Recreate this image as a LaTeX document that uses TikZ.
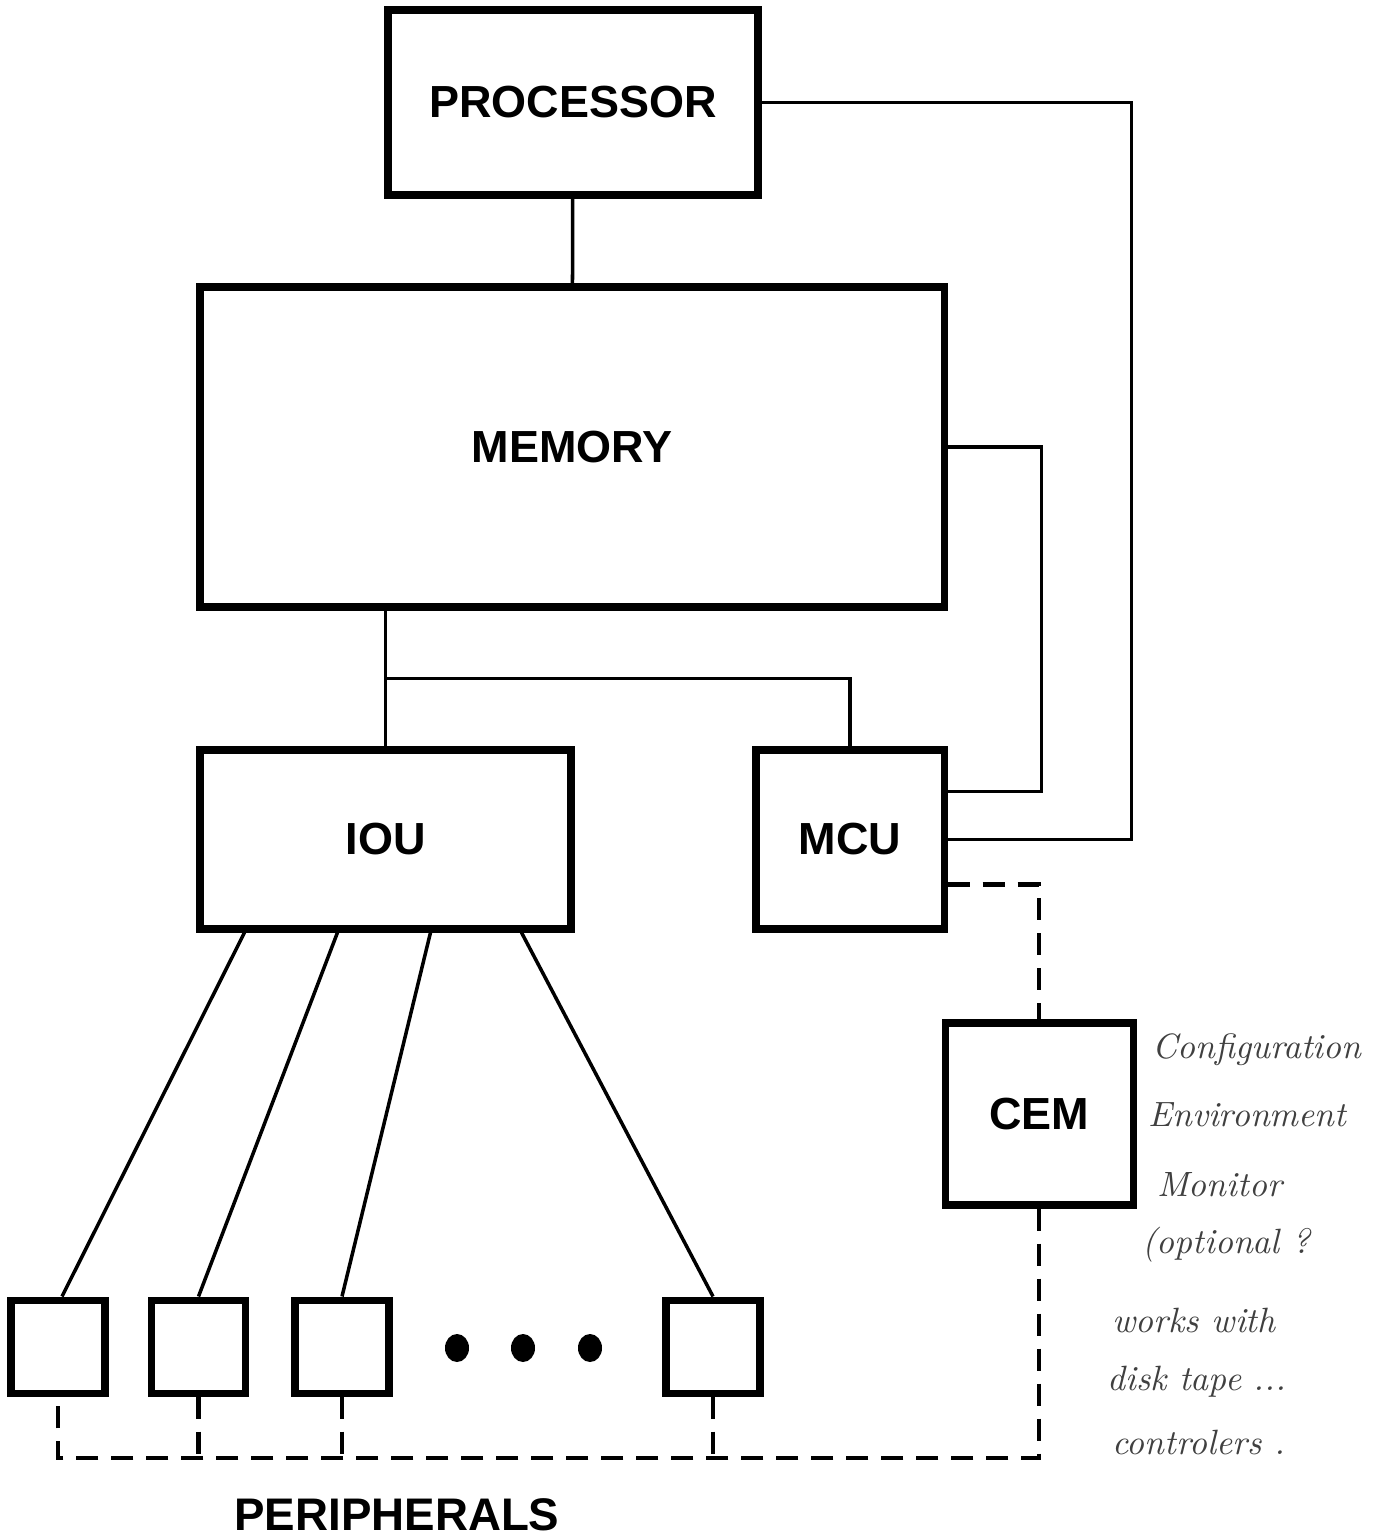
\documentclass[tikz,border=0pt]{standalone}
\usepackage{fontspec}
\setsansfont{Liberation Sans}
\usepackage{tikz}

\begin{document}
\begin{tikzpicture}[
  box/.style={draw, line width=2pt, minimum width=#1, inner sep=0pt,
    font=\sffamily\bfseries\fontsize{12.8}{15}\selectfont},
  box/.default=1cm,
  periph/.style={draw, line width=2pt, minimum width=0.94cm, minimum height=0.93cm},
  conn/.style={line width=1pt},
  bus/.style={line width=1.2pt, dash pattern=on 0.22cm off 0.13cm},
  note/.style={anchor=west, text=black!75, font=\itshape\fontsize{10}{12}\selectfont}
]
\useasboundingbox (0,0) rectangle (13.76,-15.39);

\node[box=3.70cm, minimum height=1.85cm] (proc) at (5.73,-1.025) {PROCESSOR};
\node[box=7.44cm, minimum height=3.20cm] (mem) at (5.72,-4.47) {MEMORY};
\node[box=3.71cm, minimum height=1.79cm] (iou) at (3.855,-8.395) {IOU};
\node[box=1.88cm, minimum height=1.79cm] (mcu) at (8.50,-8.395) {MCU};
\node[box=1.88cm, minimum height=1.82cm] (cem) at (10.39,-11.14) {CEM};

\node[periph] (p1) at (0.58,-13.465) {};
\node[periph] (p2) at (1.985,-13.465) {};
\node[periph] (p3) at (3.42,-13.465) {};
\node[periph] (p4) at (7.13,-13.465) {};
\fill (4.57,-13.48) ellipse (0.12 and 0.14);
\fill (5.23,-13.48) ellipse (0.12 and 0.14);
\fill (5.90,-13.48) ellipse (0.12 and 0.14);

\node[font=\sffamily\bfseries\fontsize{13}{15}\selectfont] (plabel) at (3.97,-15.15) {PERIPHERALS};

% processor / memory / mcu
\draw[conn] (proc) -- (mem);
\draw[conn] (proc.east) -- ++(3.70,0) |- (mcu.east);
\draw[conn] (mem.east) -- ++(0.94,0) |- ([yshift=0.48cm]mcu.east);
\coordinate (split) at ([yshift=-0.68cm]iou.north |- mem.south);
\draw[conn] (iou.north |- mem.south) -- (iou.north);
\draw[conn] (split) -| (mcu.north);

% iou to peripherals
\draw[conn] ([xshift=0.48cm]iou.south west) -- ([xshift=0.04cm]p1.north);
\draw[conn] ([xshift=1.41cm]iou.south west) -- (p2.north);
\draw[conn] ([xshift=2.34cm]iou.south west) -- (p3.north);
\draw[conn] ([xshift=3.25cm]iou.south west) -- (p4.north);

% dashed links
\coordinate (bus) at (0,-14.58);
\draw[bus] ([yshift=-0.45cm]mcu.east) -| (cem.north);
\draw[bus] (cem.south) |- (p1.south |- bus) -- (p1.south);
\draw[bus] (p2.south) -- (p2.south |- bus);
\draw[bus] (p3.south) -- (p3.south |- bus);
\draw[bus] (p4.south) -- (p4.south |- bus);

% handwritten remark
\node[note] (n1) at (11.40,-10.50) {Configuration};
\node[note] (n2) at (11.36,-11.15) {Environment};
\node[note] (n3) at (11.45,-11.85) {Monitor};
\node[note] (n4) at (11.30,-12.45) {(optional ?};
\node[note] (n5) at (11.00,-13.20) {works with};
\node[note] (n6) at (10.95,-13.82) {disk tape ...};
\node[note] (n7) at (11.00,-14.42) {controlers .};
\end{tikzpicture}
\end{document}
